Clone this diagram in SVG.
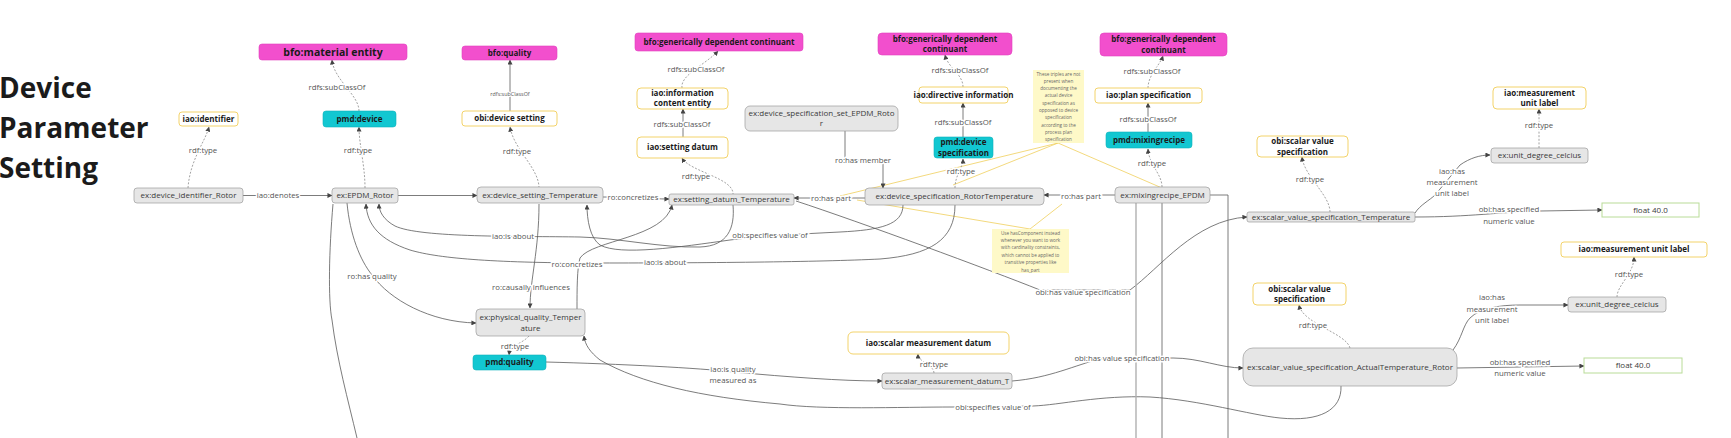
<svg xmlns="http://www.w3.org/2000/svg" width="1731" height="438" viewBox="0 0 1731 438">
<style>
text{font-family:"Open Sans","DejaVu Sans",sans-serif}
.title{font-size:28px;font-weight:700;fill:#1b1b1b}
.mag{fill:#f24fcd;stroke:#e040bd;stroke-width:0.6}
.cls{fill:#ffffff;stroke:#f3d36a;stroke-width:1}
.teal{fill:#12c7d1;stroke:#0fb3bc;stroke-width:0.6}
.inst{fill:#e6e6e6;stroke:#9c9c9c;stroke-width:0.7}
.lit{fill:#ffffff;stroke:#b9dc98;stroke-width:1}
.note{fill:#fef9c8}
.ct{font-size:8px;font-weight:700;fill:#1a1a1a;text-anchor:middle}
.it{font-size:8px;fill:#3a3a3a;text-anchor:middle}
.nt{font-size:4.6px;fill:#666;text-anchor:middle}
.e{fill:none;stroke:#5a5a5a;stroke-width:0.8}
.d{fill:none;stroke:#8a8a8a;stroke-width:0.8;stroke-dasharray:2 1.6}
.y{fill:none;stroke:#f0cf5c;stroke-width:0.8}
.lb{font-size:7.8px;fill:#555;text-anchor:middle;stroke:#fff;stroke-width:3;paint-order:stroke;stroke-linejoin:round}
</style>
<defs>
<marker id="a" viewBox="0 0 6 6" refX="5.5" refY="3" markerWidth="5" markerHeight="5" markerUnits="userSpaceOnUse" orient="auto">
<path d="M0,0 L6,3 L0,6 z" fill="#444"/>
</marker>
</defs>

<g id="title">
<text class="title" x="-1" y="98">Device</text>
<text class="title" x="-1" y="138">Parameter</text>
<text class="title" x="-1" y="178">Setting</text>
</g>

<g id="connectors">
<!-- yellow note lines -->
<path class="y" d="M1058,143 L840,196"/>
<path class="y" d="M1058,143 L953,185"/>
<path class="y" d="M1058,143 L1162,188"/>
<path class="y" d="M857,200 L1030,229"/>
<path class="y" d="M1062,204 L1030,229"/>

<!-- dotted rdf:type / subclass -->
<path class="d" marker-end="url(#a)" d="M188,188 C190,160 205,142 209,127"/>
<path class="d" marker-end="url(#a)" d="M365,188 C365,165 359,145 359,127"/>
<path class="d" marker-end="url(#a)" d="M359,111 C359,95 334,80 332,60"/>
<path class="d" marker-end="url(#a)" d="M539,188 C539,168 514,150 510,127"/>
<path class="d" marker-end="url(#a)" d="M682,88 C680,75 705,65 718,51"/>
<path class="d" marker-end="url(#a)" d="M733,195 C735,178 690,172 682,158"/>
<path class="d" marker-end="url(#a)" d="M963,87 C963,74 948,68 945,55"/>
<path class="d" marker-end="url(#a)" d="M955,188 C955,175 963,168 963,159"/>
<path class="d" marker-end="url(#a)" d="M1148,88 C1148,75 1160,65 1163,56"/>
<path class="d" marker-end="url(#a)" d="M1162,187 C1162,174 1149,165 1148,149"/>
<path class="d" marker-end="url(#a)" d="M1330,212 C1330,195 1304,176 1302,157"/>
<path class="d" marker-end="url(#a)" d="M1539,148 V109"/>
<path class="d" marker-end="url(#a)" d="M1617,297 C1617,285 1634,274 1634,257"/>
<path class="d" marker-end="url(#a)" d="M1350,348 C1346,333 1303,324 1299,305"/>
<path class="d" marker-end="url(#a)" d="M934,373 C934,365 918,362 918,354"/>
<path class="d" marker-end="url(#a)" d="M529,336 C522,344 510,345 509,355"/>

<!-- solid subclass -->
<path class="e" marker-end="url(#a)" d="M510,111 V60"/>
<path class="e" marker-end="url(#a)" d="M683,137 V109"/>
<path class="e" marker-end="url(#a)" d="M963,137 V103"/>
<path class="e" marker-end="url(#a)" d="M1148,132 V103"/>

<!-- main row -->
<path class="e" marker-end="url(#a)" d="M243,195.5 H332"/>
<path class="e" marker-end="url(#a)" d="M398,195.5 H477"/>
<path class="e" marker-end="url(#a)" d="M603,197 C630,197 650,199 669,199"/>
<path class="e" marker-end="url(#a)" d="M865,198 H794"/>
<path class="e" marker-end="url(#a)" d="M1115,195 H1044"/>
<path class="e" marker-end="url(#a)" d="M845,131 V160 H883 V188"/>

<!-- curves -->
<path class="e" marker-end="url(#a)" d="M733,205 C735,228 728,246 700,247 C660,248 620,238 580,237 C520,236 420,238 395,226 C384,220 379,212 379,204"/>
<path class="e" marker-end="url(#a)" d="M903,205 C903,225 880,230 840,232 C800,234 760,236 730,240 C680,247 620,256 600,245 C590,238 587,220 587,205"/>
<path class="e" marker-end="url(#a)" d="M955,205 C955,240 930,255 880,259 C820,262 700,263 600,263 C500,263 440,259 410,250 C380,240 367,225 366,204"/>
<path class="e" marker-end="url(#a)" d="M577,309 C577,290 577,268 580,258 C592,240 665,238 672,205"/>
<path class="e" marker-end="url(#a)" d="M539,204 C539,250 530,280 530,308"/>
<path class="e" marker-end="url(#a)" d="M347,203 C350,235 360,260 372,275 C390,300 430,322 476,323"/>
<path class="e" d="M333,204 C329,250 328,300 332,320 C337,360 348,400 357,438"/>
<path class="e" marker-end="url(#a)" d="M546,362 C620,364 700,368 733,372 C790,377 840,381 882,381"/>
<path class="e" marker-end="url(#a)" d="M1341,386 C1342,410 1320,422 1280,418 C1250,415 1200,400 1150,397 C1100,395 1060,405 1033,406 L953,407 C900,407 820,410 780,404 C700,397 640,383 600,360 C590,352 585,345 584,336"/>
<path class="e" marker-end="url(#a)" d="M1012,381 C1050,378 1075,365 1100,359 L1173,358 C1200,358 1220,368 1243,368"/>
<path class="e" marker-end="url(#a)" d="M796,201 C860,222 990,270 1040,290 L1130,290 C1160,268 1195,220 1247,217"/>
<path class="e" marker-end="url(#a)" d="M1415,213 C1420,205 1430,200 1435,195 L1460,165 C1470,158 1480,155 1490,155"/>
<path class="e" marker-end="url(#a)" d="M1415,217 C1470,217 1500,212 1540,211 L1602,210"/>
<path class="e" marker-end="url(#a)" d="M1453,350 C1462,338 1463,325 1470,318 C1480,308 1500,305 1520,305 L1568,305"/>
<path class="e" marker-end="url(#a)" d="M1457,368 L1584,366"/>

<!-- lines down from mixing recipe -->
<path class="e" d="M1210,195 H1228 V438"/>
<path fill="none" stroke="#b0b0b0" stroke-width="1.4" d="M1136,203 V438"/>
<path class="e" d="M1162,203 V438"/>

<!-- labels -->
<text class="lb" x="203" y="153">rdf:type</text>
<text class="lb" x="358" y="153">rdf:type</text>
<text class="lb" x="337" y="90">rdfs:subClassOf</text>
<text class="lb" x="510" y="96" style="font-size:5.4px;stroke-width:2">rdfs:subClassOf</text>
<text class="lb" x="517" y="154">rdf:type</text>
<text class="lb" x="696" y="72">rdfs:subClassOf</text>
<text class="lb" x="682" y="127">rdfs:subClassOf</text>
<text class="lb" x="696" y="179">rdf:type</text>
<text class="lb" x="960" y="73">rdfs:subClassOf</text>
<text class="lb" x="963" y="125">rdfs:subClassOf</text>
<text class="lb" x="961" y="174">rdf:type</text>
<text class="lb" x="1152" y="74">rdfs:subClassOf</text>
<text class="lb" x="1148" y="122">rdfs:subClassOf</text>
<text class="lb" x="1152" y="166">rdf:type</text>
<text class="lb" x="863" y="163">ro:has member</text>
<text class="lb" x="1310" y="182">rdf:type</text>
<text class="lb" x="1539" y="128">rdf:type</text>
<text class="lb" x="1629" y="277">rdf:type</text>
<text class="lb" x="1313" y="328">rdf:type</text>
<text class="lb" x="934" y="367">rdf:type</text>
<text class="lb" x="515" y="349">rdf:type</text>
<text class="lb" x="278" y="198">iao:denotes</text>
<text class="lb" x="633" y="200">ro:concretizes</text>
<text class="lb" x="831" y="201">ro:has part</text>
<text class="lb" x="1081" y="199">ro:has part</text>
<text class="lb" x="513" y="239">iao:is about</text>
<text class="lb" x="770" y="238">obi:specifies value of</text>
<text class="lb" x="665" y="265">iao:is about</text>
<text class="lb" x="577" y="267">ro:concretizes</text>
<text class="lb" x="531" y="290">ro:causally influences</text>
<text class="lb" x="372" y="279">ro:has quality</text>
<text class="lb" x="733" y="372">iao:is quality</text>
<text class="lb" x="733" y="383">measured as</text>
<text class="lb" x="993" y="410">obi:specifies value of</text>
<text class="lb" x="1122" y="361">obi:has value specification</text>
<text class="lb" x="1083" y="295">obi:has value specification</text>
<text class="lb" x="1452" y="174">iao:has</text>
<text class="lb" x="1452" y="185">measurement</text>
<text class="lb" x="1452" y="196">unit label</text>
<text class="lb" x="1509" y="212">obi:has specified</text>
<text class="lb" x="1509" y="224">numeric value</text>
<text class="lb" x="1492" y="300">iao:has</text>
<text class="lb" x="1492" y="312">measurement</text>
<text class="lb" x="1492" y="323">unit label</text>
<text class="lb" x="1520" y="365">obi:has specified</text>
<text class="lb" x="1520" y="376">numeric value</text>
</g>

<g id="n-material-entity"><rect class="mag" x="259" y="44" width="148" height="16" rx="3"/><text class="ct" x="333" y="55.8" style="font-size:10.5px">bfo:material entity</text></g>
<g id="n-identifier"><rect class="cls" x="179" y="112" width="59" height="14" rx="3"/><text class="ct" x="208.5" y="121.8">iao:identifier</text></g>
<g id="n-pmd-device"><rect class="teal" x="323" y="111" width="73" height="16" rx="3"/><text class="ct" x="359.5" y="121.8">pmd:device</text></g>
<g id="n-bfo-quality"><rect class="mag" x="462" y="46" width="95" height="14" rx="3"/><text class="ct" x="509.5" y="55.8">bfo:quality</text></g>
<g id="n-obi-device-setting"><rect class="cls" x="462" y="111" width="95" height="15" rx="3"/><text class="ct" x="509.5" y="121.3">obi:device setting</text></g>
<g id="n-gdc1"><rect class="mag" x="635" y="33" width="168" height="18" rx="3"/><text class="ct" x="719" y="44.8">bfo:generically dependent continuant</text></g>
<g id="n-ice"><rect class="cls" x="637" y="88" width="91" height="21" rx="4"/><text class="ct" x="682.5" y="95.8">iao:information<tspan x="682.5" dy="10.5">content entity</tspan></text></g>
<g id="n-setting-datum"><rect class="cls" x="637" y="137" width="91" height="21" rx="4"/><text class="ct" x="682.5" y="150.3">iao:setting datum</text></g>
<g id="n-spec-set"><rect class="inst" x="745" y="106" width="153" height="25" rx="5"/><text class="it" x="821.5" y="116">ex:device_specification_set_EPDM_Roto<tspan x="821.5" dy="10">r</tspan></text></g>
<g id="n-gdc2"><rect class="mag" x="878" y="33" width="134" height="22" rx="4"/><text class="ct" x="945" y="41.5">bfo:generically dependent<tspan x="945" dy="10.5">continuant</tspan></text></g>
<g id="n-directive"><rect class="cls" x="919" y="87" width="89" height="16" rx="3"/><text class="ct" x="963.5" y="97.8">iao:directive information</text></g>
<g id="n-pmd-devspec"><rect class="teal" x="934" y="137" width="59" height="21" rx="3"/><text class="ct" x="963.5" y="145">pmd:device<tspan x="963.5" dy="10.5">specification</tspan></text></g>
<g id="n-gdc3"><rect class="mag" x="1100" y="33" width="127" height="23" rx="4"/><text class="ct" x="1163.5" y="42">bfo:generically dependent<tspan x="1163.5" dy="10.5">continuant</tspan></text></g>
<g id="n-plan"><rect class="cls" x="1095" y="88" width="107" height="15" rx="3"/><text class="ct" x="1148.5" y="98.3">iao:plan specification</text></g>
<g id="n-mixingrecipe"><rect class="teal" x="1106" y="132" width="86" height="16" rx="3"/><text class="ct" x="1149" y="142.8">pmd:mixingrecipe</text></g>
<g id="n-svs-class1"><rect class="cls" x="1257" y="136" width="91" height="21" rx="4"/><text class="ct" x="1302.5" y="144">obi:scalar value<tspan x="1302.5" dy="10.5">specification</tspan></text></g>
<g id="n-mul1"><rect class="cls" x="1493" y="87" width="93" height="22" rx="4"/><text class="ct" x="1539.5" y="95.5">iao:measurement<tspan x="1539.5" dy="10.5">unit label</tspan></text></g>
<g id="n-udc1"><rect class="inst" x="1491" y="148" width="97" height="15" rx="3"/><text class="it" x="1539.5" y="158.3">ex:unit_degree_celcius</text></g>
<g id="n-float1"><rect class="lit" x="1602" y="203" width="97" height="14"/><text class="it" x="1650.5" y="212.8">float 40.0</text></g>
<g id="n-mul2"><rect class="cls" x="1561" y="242" width="146" height="15" rx="3"/><text class="ct" x="1634" y="252.3">iao:measurement unit label</text></g>
<g id="n-udc2"><rect class="inst" x="1568" y="297" width="98" height="15" rx="3"/><text class="it" x="1617" y="307.3">ex:unit_degree_celcius</text></g>
<g id="n-svs-class2"><rect class="cls" x="1253" y="283" width="93" height="22" rx="4"/><text class="ct" x="1299.5" y="291.5">obi:scalar value<tspan x="1299.5" dy="10.5">specification</tspan></text></g>
<g id="n-svs-actual"><rect class="inst" x="1243" y="348" width="214" height="38" rx="10"/><text class="it" x="1350" y="369.8">ex:scalar_value_specification_ActualTemperature_Rotor</text></g>
<g id="n-float2"><rect class="lit" x="1584" y="358" width="98" height="15"/><text class="it" x="1633" y="368.3">float 40.0</text></g>
<g id="n-smd-class"><rect class="cls" x="848" y="332" width="161" height="22" rx="5"/><text class="ct" x="928.5" y="345.8">iao:scalar measurement datum</text></g>
<g id="n-smd"><rect class="inst" x="882" y="373" width="130" height="16" rx="3"/><text class="it" x="947" y="383.8">ex:scalar_measurement_datum_T</text></g>
<g id="n-pmd-quality"><rect class="teal" x="473" y="355" width="73" height="15" rx="3"/><text class="ct" x="509.5" y="365.3">pmd:quality</text></g>
<g id="n-phys"><rect class="inst" x="476" y="309" width="109" height="27" rx="4"/><text class="it" x="530.5" y="320">ex:physical_quality_Temper<tspan x="530.5" dy="11">ature</tspan></text></g>
<g id="n-dev-id"><rect class="inst" x="134" y="188" width="109" height="15" rx="3"/><text class="it" x="188.5" y="198.3">ex:device_identifier_Rotor</text></g>
<g id="n-epdm"><rect class="inst" x="332" y="188" width="66" height="15" rx="3"/><text class="it" x="365" y="198.3">ex:EPDM_Rotor</text></g>
<g id="n-dev-setting"><rect class="inst" x="477" y="187" width="126" height="16" rx="4"/><text class="it" x="540" y="197.8">ex:device_setting_Temperature</text></g>
<g id="n-setting-datum-t"><rect class="inst" x="669" y="194" width="125" height="11" rx="2"/><text class="it" x="731.5" y="202.3">ex:setting_datum_Temperature</text></g>
<g id="n-dev-spec"><rect class="inst" x="865" y="188" width="179" height="17" rx="4"/><text class="it" x="954.5" y="199.3">ex:device_specification_RotorTemperature</text></g>
<g id="n-mix"><rect class="inst" x="1115" y="187" width="95" height="16" rx="4"/><text class="it" x="1162.5" y="197.8">ex:mixingrecipe_EPDM</text></g>
<g id="n-svs-t"><rect class="inst" x="1247" y="212" width="168" height="10" rx="2"/><text class="it" x="1331" y="220">ex:scalar_value_specification_Temperature</text></g>

<g id="note1"><rect class="note" x="1033" y="70" width="51" height="73"/>
<text class="nt" x="1058.5" y="75.5">These triples are not<tspan x="1058.5" dy="7.3">present when</tspan><tspan x="1058.5" dy="7.3">documenting the</tspan><tspan x="1058.5" dy="7.3">actual device</tspan><tspan x="1058.5" dy="7.3">specification as</tspan><tspan x="1058.5" dy="7.3">opposed to device</tspan><tspan x="1058.5" dy="7.3">specification</tspan><tspan x="1058.5" dy="7.3">according to the</tspan><tspan x="1058.5" dy="7.3">process plan</tspan><tspan x="1058.5" dy="7.3">specification</tspan></text></g>
<g id="note2"><rect class="note" x="992" y="229" width="77" height="44"/>
<text class="nt" x="1030.5" y="234.5">Use hasComponent instead<tspan x="1030.5" dy="7.4">whenever you want to work</tspan><tspan x="1030.5" dy="7.4">with cardinality constraints,</tspan><tspan x="1030.5" dy="7.4">which cannot be applied to</tspan><tspan x="1030.5" dy="7.4">transitive properties like</tspan><tspan x="1030.5" dy="7.4">has_part</tspan></text></g>
</svg>
